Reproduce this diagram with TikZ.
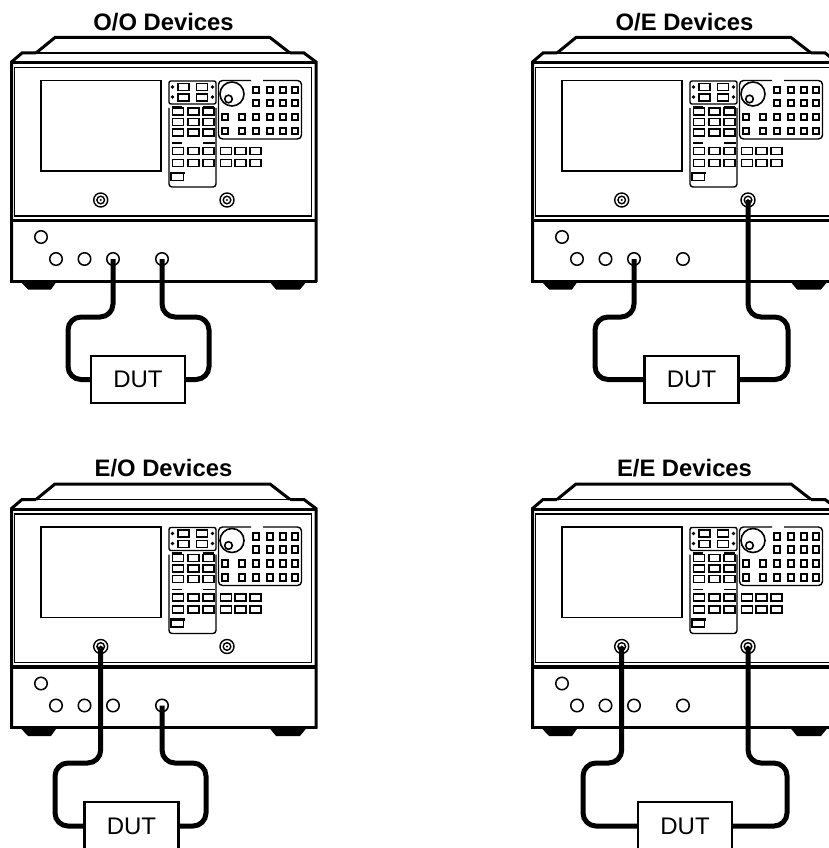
\documentclass[tikz,border=0pt]{standalone}
\usepackage{fontspec}
\setmainfont{Liberation Sans}
\tikzset{
  x=1pt,y=-1pt,
  thin line/.style={line width=1.4pt,black},
  heavy line/.style={line width=3pt,black,line join=miter},
  keyface/.style={line width=1.9pt,black},
  widekey/.style={line width=1.5pt,black},
  port/.style={circle,draw=black,fill=white,line width=1.5pt,minimum size=12.5pt,inner sep=0pt},
  front/.style={circle,draw=black,fill=white,line width=1.4pt,minimum size=14pt,inner sep=0pt},
  dutbox/.style={rectangle,draw=black,fill=white,line width=2.4pt,minimum width=94pt,minimum height=47.5pt,inner sep=0pt,font=\fontsize{24}{24}\selectfont},
  cable/.style={line width=5pt,black,rounded corners=13pt,line cap=butt},
  titletext/.style={font=\bfseries\fontsize{23.8}{24}\selectfont,inner sep=0pt},
  analyzer/.pic={
    % title
    \node[titletext] (title) at (163.5,22) {#1};
    % lid and top of the cabinet
    \draw[heavy line] (36,53) -- (55,37.5) -- (270,37.5) -- (290,53);
    \draw[thin line] (36,53) -- (290,53);
    \draw[heavy line] (11.5,282) -- (11.5,62) -- (22,53) -- (36,53);
    \draw[heavy line] (290,53) -- (304,53) -- (316,62) -- (316,282);
    \draw[heavy line] (11.5,62.5) -- (316,62.5);
    % front frame
    \draw[thin line] (14.5,67.5) rectangle (311.5,216);
    \draw[line width=3.4pt] (11.5,220.5) -- (316,220.5);
    % bottom of the cabinet
    \draw[heavy line] (9.5,281) -- (317,281);
    \fill[black] (20,281) -- (28,289.5) -- (51,289.5) -- (57,281) -- cycle;
    \fill[black] (269,281) -- (276,289.5) -- (300,289.5) -- (307,281) -- cycle;
    % screen
    \draw[line width=1.6pt] (41,80.5) rectangle (161,171);
    % top key group
    \draw[thin line,rounded corners=2pt] (169,81) rectangle (216,104);
    \foreach \kx in {183.5,202} \foreach \ky in {87,97.5}
      \draw[widekey] (\kx-5.5,\ky-3.7) rectangle (\kx+5.5,\ky+3.7);
    \foreach \kx in {172.5,212.5} \foreach \ky in {87,97}
      \fill[black] (\kx,\ky) circle (1.8);
    % knob group
    \draw[thin line,rounded corners=4pt] (251,80.5) -- (218.5,80.5) -- (218.5,139) -- (301.5,139) -- (301.5,80.5) -- (263,80.5);
    \draw[line width=1.6pt] (232,94) circle (12);
    \draw[line width=1.6pt] (228.5,99) circle (3.8);
    \foreach \kx in {256,270,283,295} \foreach \ky in {90,103}
      \draw[keyface] (\kx-3.4,\ky-3.4) rectangle (\kx+3.4,\ky+3.4);
    \foreach \kx in {225,242,256,270,283,295} \foreach \ky in {117,131}
      \draw[keyface] (\kx-3.4,\ky-3.4) rectangle (\kx+3.4,\ky+3.4);
    % tall key group
    \draw[thin line,rounded corners=3pt] (169,108) -- (169,187) -- (216,187) -- (216,108);
    \draw[line width=1.9pt] (172,106.5) -- (182,106.5);
    \draw[line width=1.9pt] (203,106.5) -- (214,106.5);
    \draw[thin line] (172,143) -- (182,143);
    \draw[thin line] (203,143) -- (215,143);
    \foreach \kx in {178,193.5,208.5} \foreach \ky in {111.5,122,132.5}
      \draw[widekey] (\kx-5.7,\ky-3.5) rectangle (\kx+5.7,\ky+3.5);
    \foreach \kx in {178,193.5,208.5,226,240.5,255.5} \foreach \ky in {151,163}
      \draw[widekey] (\kx-5.7,\ky-3.5) rectangle (\kx+5.7,\ky+3.5);
    \draw[line width=1.8pt] (171,172.5) rectangle (183.5,180.5);
    \fill[black] (170,171.5) rectangle (184.5,174);
    % front connectors
    \node[front] (front1) at (100.7,200) {};
    \node[front] (front2) at (227,200) {};
    \foreach \f in {front1,front2}{
      \draw[line width=1.4pt] (\f) circle (3.8);
      \fill[black] (\f) circle (1.2);
    }
    % lower ports
    \node[port] (port1) at (41,237) {};
    \node[port] (port2) at (56,259) {};
    \node[port] (port3) at (84.5,259) {};
    \node[port] (port4) at (113,259) {};
    \node[port] (port5) at (162,259) {};
  }
}
\begin{document}
\begin{tikzpicture}
\path[use as bounding box,clip] (0,0) rectangle (829,848);
\fill[white] (0,0) rectangle (829,848);

\pic (a) at (0,0) {analyzer={O/O Devices}};
\pic (b) at (521,0) {analyzer={O/E Devices}};
\pic (c) at (0,446.5) {analyzer={E/O Devices}};
\pic (d) at (521,446.5) {analyzer={E/E Devices}};

% O/O
\node[dutbox] (duta) at (138,379.5) {DUT};
\coordinate (a1) at (68,317);
\coordinate (a2) at (209,317);
\draw[cable] (aport4.center) |- (a1) |- (duta.west);
\draw[cable] (aport5.center) |- (a2) |- (duta.east);

% O/E
\node[dutbox] (dutb) at (691.5,379.5) {DUT};
\coordinate (b1) at (595,317);
\coordinate (b2) at (788,317);
\draw[cable] (bport4.center) |- (b1) |- (dutb.west);
\draw[cable] (bfront2.center) |- (b2) |- (dutb.east);

% E/O
\node[dutbox] (dutc) at (131.5,826) {DUT};
\coordinate (c1) at (55,763);
\coordinate (c2) at (206,763);
\draw[cable] (cfront1.center) |- (c1) |- (dutc.west);
\draw[cable] (cport5.center) |- (c2) |- (dutc.east);

% E/E
\node[dutbox] (dutd) at (685,826) {DUT};
\coordinate (d1) at (583,763);
\coordinate (d2) at (787,763);
\draw[cable] (dfront1.center) |- (d1) |- (dutd.west);
\draw[cable] (dfront2.center) |- (d2) |- (dutd.east);
\end{tikzpicture}
\end{document}
